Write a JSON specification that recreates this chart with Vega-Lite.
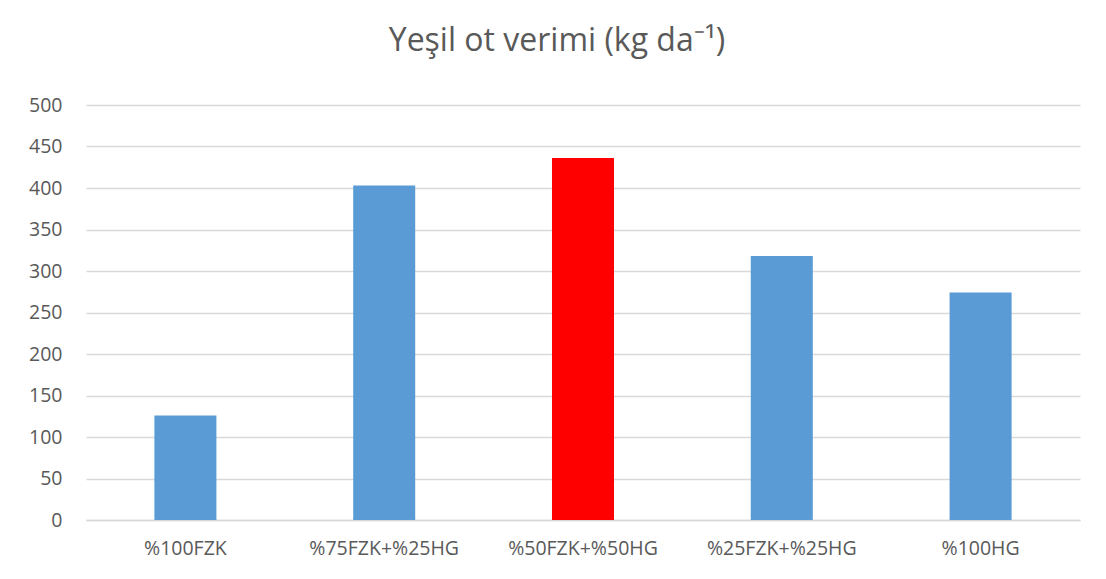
{
  "$schema": "https://vega.github.io/schema/vega-lite/v6.json",
  "autosize": {"type": "none"},
  "padding": {"left": 86, "top": 105, "right": 26, "bottom": 59},
  "width": 994,
  "height": 415,
  "background": "white",
  "title": {
    "text": "Yeşil ot verimi (kg da⁻¹)",
    "font": "Open Sans",
    "fontSize": 32,
    "fontWeight": "normal",
    "color": "#595959",
    "anchor": "middle",
    "dx": -26,
    "offset": 37
  },
  "data": {
    "values": [
      {"treatment": "%100FZK", "yield": 126, "highlight": "no"},
      {"treatment": "%75FZK+%25HG", "yield": 403, "highlight": "no"},
      {"treatment": "%50FZK+%50HG", "yield": 436, "highlight": "yes"},
      {"treatment": "%25FZK+%25HG", "yield": 318, "highlight": "no"},
      {"treatment": "%100HG", "yield": 274, "highlight": "no"}
    ]
  },
  "mark": {"type": "bar"},
  "encoding": {
    "x": {
      "field": "treatment",
      "type": "nominal",
      "sort": null,
      "scale": {"paddingInner": 0.688, "paddingOuter": 0.344},
      "axis": {
        "title": null,
        "labelAngle": 0,
        "labelFont": "Open Sans",
        "labelFontSize": 19.5,
        "labelColor": "#595959",
        "labelPadding": 19,
        "ticks": false,
        "domainColor": "#d9d9d9",
        "domainWidth": 1.5,
        "grid": false
      }
    },
    "y": {
      "field": "yield",
      "type": "quantitative",
      "scale": {"domain": [0, 500], "nice": false},
      "axis": {
        "title": null,
        "values": [0, 50, 100, 150, 200, 250, 300, 350, 400, 450, 500],
        "labelFont": "Open Sans",
        "labelFontSize": 19.5,
        "labelColor": "#595959",
        "labelPadding": 24,
        "ticks": false,
        "domain": false,
        "gridColor": "#d9d9d9",
        "gridWidth": 1.5
      }
    },
    "color": {
      "field": "highlight",
      "type": "nominal",
      "scale": {"domain": ["no", "yes"], "range": ["#5b9bd5", "#ff0000"]},
      "legend": null
    }
  },
  "config": {"view": {"stroke": null}}
}
